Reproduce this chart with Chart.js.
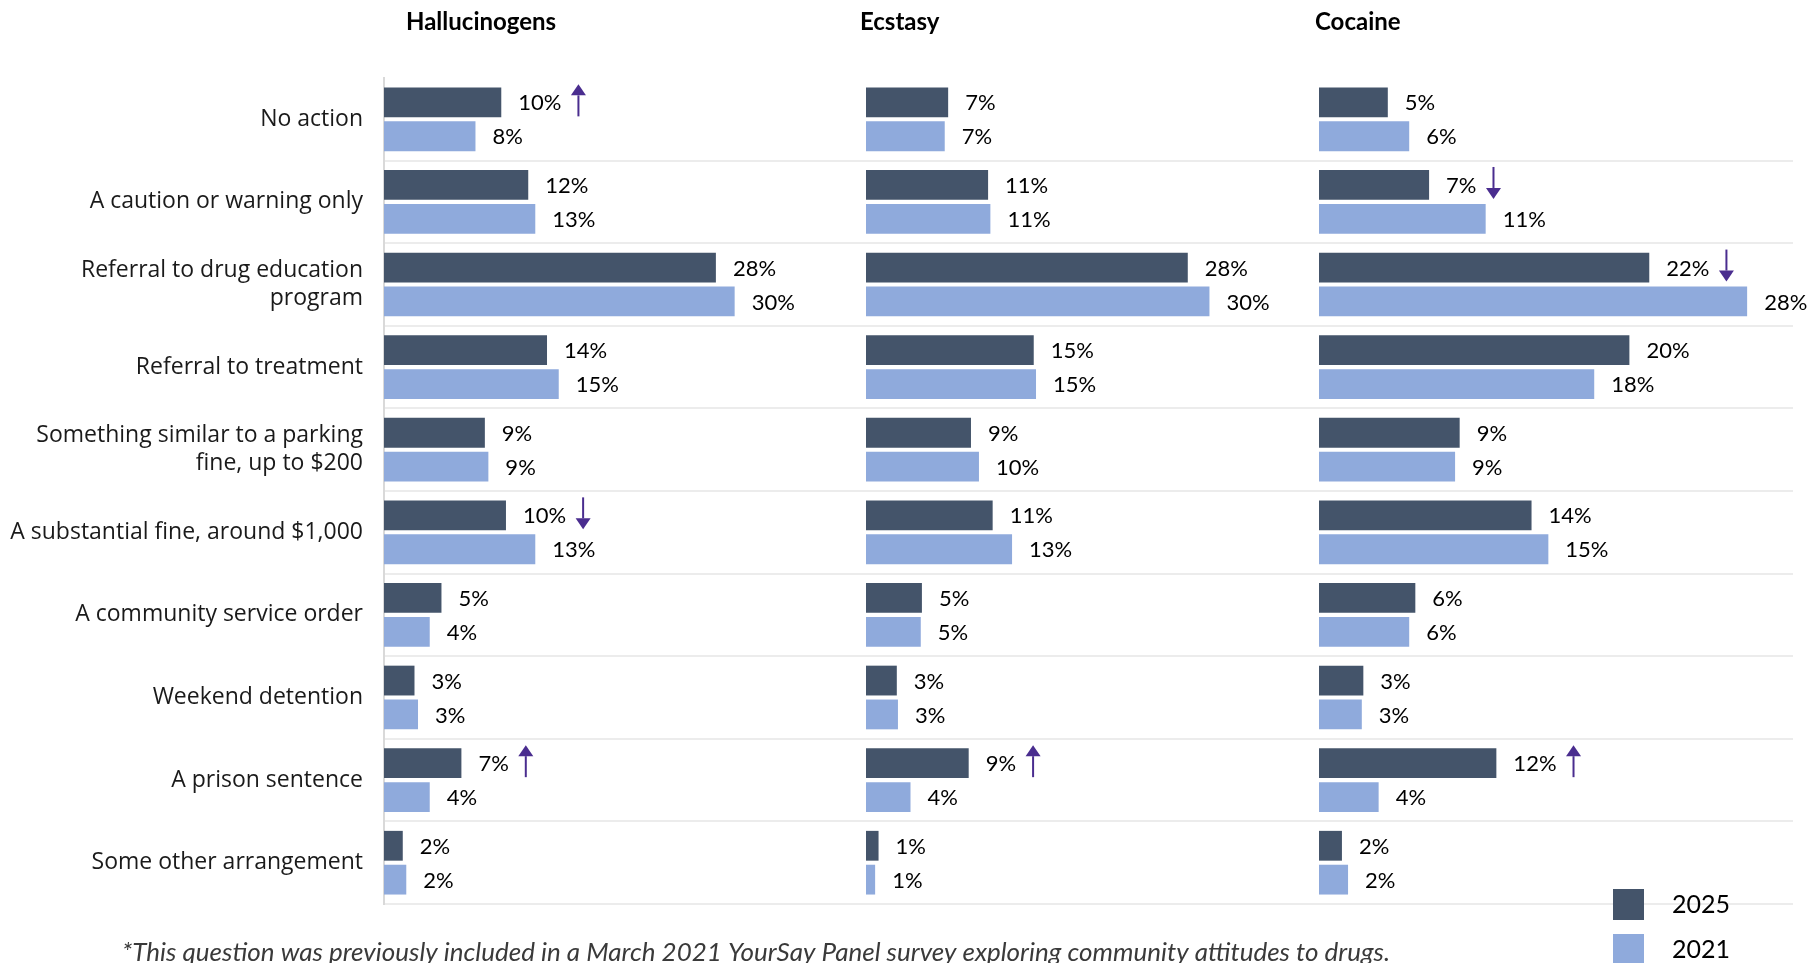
<!DOCTYPE html>
<html>
<head>
<meta charset="utf-8">
<script src="https://cdn.jsdelivr.net/npm/chart.js@4.4.1/dist/chart.umd.min.js"></script>
<style>
html,body{margin:0;padding:0;background:#fff;}
#wrap{position:relative;width:1818px;height:963px;}
</style>
</head>
<body>
<div id="wrap"><canvas id="chart" width="1818" height="963"></canvas></div>
<script>
// ===== DATA =====
const categories = [
    "No action",
    "A caution or warning only",
    ["Referral to drug education", "program"],
    "Referral to treatment",
    ["Something similar to a parking", "fine, up to $200"],
    "A substantial fine, around $1,000",
    "A community service order",
    "Weekend detention",
    "A prison sentence",
    "Some other arrangement"
];
const panels = ["Hallucinogens", "Ecstasy", "Cocaine"];
const years = ["2025", "2021"];

const hall2025 = [10.0, 12.3, 28.3, 13.9, 8.6, 10.4, 4.9, 2.6, 6.6, 1.6];
const hall2021 = [7.8, 12.9, 29.9, 14.9, 8.9, 12.9, 3.9, 2.9, 3.9, 1.9];
const ecst2025 = [7.2, 10.7, 28.2, 14.7, 9.2, 11.1, 4.9, 2.7, 9.0, 1.1];
const ecst2021 = [6.9, 10.9, 30.1, 14.9, 9.9, 12.8, 4.8, 2.8, 3.9, 0.8];
const coca2025 = [4.5, 7.2, 21.6, 20.3, 9.2, 13.9, 6.3, 2.9, 11.6, 1.5];
const coca2021 = [5.9, 10.9, 28.0, 18.0, 8.9, 15.0, 5.9, 2.8, 3.9, 1.9];

// significant change 2021 -> 2025
const hallTrend = ["up", null, null, null, null, "down", null, null, "up", null];
const ecstTrend = [null, null, null, null, null, null, null, null, "up", null];
const cocaTrend = [null, "down", "down", null, null, null, null, null, "up", null];

const footnote = "*This question was previously included in a March 2021 YourSay Panel survey exploring community attitudes to drugs.";

// ===== STYLE =====
const darkColor = "#44546a";
const lightColor = "#8faadc";
const arrowColor = "#4a2d8f";

function drawArrow(ctx, x, y, dir){
    const len = 32, headH = 11, headW = 15;
    const s = dir === "up" ? -1 : 1;
    const tip = y + s * len / 2, tail = y - s * len / 2;
    ctx.strokeStyle = arrowColor;
    ctx.fillStyle = arrowColor;
    ctx.lineWidth = 2;
    ctx.beginPath();
    ctx.moveTo(x, tail);
    ctx.lineTo(x, tip - s * headH);
    ctx.stroke();
    ctx.beginPath();
    ctx.moveTo(x, tip);
    ctx.lineTo(x - headW / 2, tip - s * headH);
    ctx.lineTo(x + headW / 2, tip - s * headH);
    ctx.closePath();
    ctx.fill();
}

const extrasPlugin = {
    id: "extras",
    afterDatasetsDraw(chart){
        const ctx = chart.ctx;
        ctx.save();
        // value labels + arrows
        ctx.textBaseline = "middle";
        ctx.textAlign = "left";
        chart.data.datasets.forEach((ds, i) => {
            const meta = chart.getDatasetMeta(i);
            meta.data.forEach((bar, j) => {
                const text = Math.round(ds.data[j]) + "%";
                ctx.fillStyle = "#000";
                ctx.font = "22px Lato";
                ctx.fillText(text, bar.x + 17, bar.y + 1);
                const t = ds.trend && ds.trend[j];
                if (t) drawArrow(ctx, bar.x + 17 + ctx.measureText(text).width + 17, bar.y - 2, t);
            });
        });

        // panel titles
        ctx.font = "bold 24px Lato";
        ctx.fillStyle = "#000";
        const titleOffsets = [22, -6, -4];
        ["x1", "x2", "x3"].forEach((id, k) => {
            ctx.fillText(panels[k], chart.scales[id].left + titleOffsets[k], 22);
        });

        // legend
        const colors = [darkColor, lightColor];
        ctx.font = "25px Lato";
        years.forEach((yr, k) => {
            const top = 889 + k * 45;
            ctx.fillStyle = colors[k];
            ctx.fillRect(1613, top, 31, 31);
            ctx.fillStyle = "#000";
            ctx.fillText(yr, 1672, top + 16);
        });

        // footnote
        ctx.font = "italic 26px Lato";
        ctx.fillStyle = "#3a3a3a";
        ctx.textBaseline = "top";
        ctx.fillText(footnote, 122, 940);
        ctx.restore();
    }
};

const chart = new Chart(document.getElementById("chart"), {
    type: "bar",
    data: {
        labels: categories,
        datasets: [
            {label: years[0], data: hall2025, xAxisID: "x1", yAxisID: "y", stack: "a", backgroundColor: darkColor, trend: hallTrend},
            {label: years[0], data: ecst2025, xAxisID: "x2", yAxisID: "y", stack: "a", backgroundColor: darkColor, trend: ecstTrend},
            {label: years[0], data: coca2025, xAxisID: "x3", yAxisID: "y", stack: "a", backgroundColor: darkColor, trend: cocaTrend},
            {label: years[1], data: hall2021, xAxisID: "x1", yAxisID: "y", stack: "b", backgroundColor: lightColor},
            {label: years[1], data: ecst2021, xAxisID: "x2", yAxisID: "y", stack: "b", backgroundColor: lightColor},
            {label: years[1], data: coca2021, xAxisID: "x3", yAxisID: "y", stack: "b", backgroundColor: lightColor}
        ]
    },
    options: {
        indexAxis: "y",
        responsive: false,
        devicePixelRatio: 1,
        animation: false,
        categoryPercentage: 0.82,
        barPercentage: 0.88,
        layout: {padding: {top: 78, bottom: 59, left: 0, right: 25}},
        plugins: {legend: {display: false}, tooltip: {enabled: false}},
        scales: {
            y: {
                type: "category",
                offset: true,
                grid: {
                    offset: true,
                    drawTicks: false,
                    lineWidth: 2,
                    color: c => (c.index === 0 || c.index === categories.length) ? "rgba(0,0,0,0)" : "#ececec"
                },
                border: {display: true, color: "#d9d9d9", width: 2},
                ticks: {
                    font: {family: "'Open Sans'", size: 23, lineHeight: 1.22},
                    color: "#1a1a1a",
                    padding: 21
                },
                afterFit(s){ s.width = 384; }
            },
            x1: {type: "linear", position: "bottom", stack: "panels", stackWeight: 482, min: 0, max: 41.1, stacked: false, display: false},
            x2: {type: "linear", position: "bottom", stack: "panels", stackWeight: 453, min: 0, max: 39.7, stacked: false, display: false},
            x3: {type: "linear", position: "bottom", stack: "panels", stackWeight: 474, min: 0, max: 31, stacked: false, display: false}
        }
    },
    plugins: [extrasPlugin]
});
</script>
</body>
</html>
